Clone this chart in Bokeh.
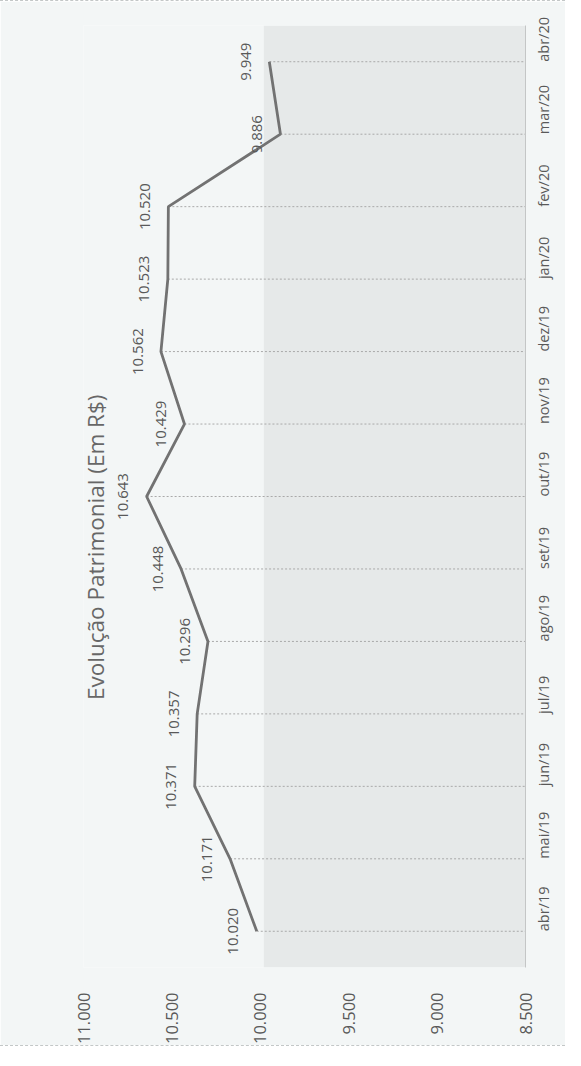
import math
from bokeh.plotting import figure
from bokeh.models import FactorRange, Range1d, FixedTicker, BoxAnnotation, Label
from bokeh.core.properties import value
from bokeh.embed import file_html
from bokeh.resources import INLINE

# ---- data ----
months = ["abr/19", "mai/19", "jun/19", "jul/19", "ago/19", "set/19", "out/19",
          "nov/19", "dez/19", "jan/20", "fev/20", "mar/20", "abr/20"]
patrimonio = [10020, 10171, 10371, 10357, 10296, 10448, 10643,
              10429, 10562, 10523, 10520, 9886, 9949]
data_labels = ["10.020", "10.171", "10.371", "10.357", "10.296", "10.448", "10.643",
               "10.429", "10.562", "10.523", "10.520", "9.886", "9.949"]
value_ticks = [8500, 9000, 9500, 10000, 10500, 11000]
value_tick_labels = ["8.500", "9.000", "9.500", "10.000", "10.500", "11.000"]
title_text = "Evolução Patrimonial (Em R$)"

# ---- styling constants ----
AXIS_MIN, AXIS_MAX = 8500, 11000
FONT = "Open Sans"
TEXT = "#595959"
BG = "#f3f6f6"
LABEL_DX = 132          # label offset from point, in value units (~24 px)
SHADE_EDGE = 9980

p = figure(width=565, height=1046,
           x_range=Range1d(AXIS_MAX, AXIS_MIN),
           y_range=FactorRange(factors=months),
           x_axis_location="below", y_axis_location="right",
           output_backend="svg", toolbar_location=None,
           min_border_left=83, min_border_right=34,
           min_border_top=24, min_border_bottom=78)
p.styles = {"border-top": "1px dashed #c3c7c7", "border-bottom": "1px dashed #c3c7c7"}

p.background_fill_color = BG
p.border_fill_color = BG
p.outline_line_color = None
p.xgrid.grid_line_color = None
p.ygrid.grid_line_color = None

# shaded plot-area fill
p.add_layout(BoxAnnotation(left=AXIS_MIN, right=SHADE_EDGE, fill_color="#e6e9e9",
                           fill_alpha=1.0, line_color=None, level="underlay"))

# drop lines
p.segment(x0=patrimonio, y0=months, x1=[AXIS_MIN] * len(months), y1=months,
          line_color="#a9a9a9", line_width=1, line_dash="2 2")

# series line
p.line(x=patrimonio, y=months, line_color="#727272", line_width=2.8)

# data labels
p.text(x=[v + LABEL_DX for v in patrimonio], y=months, text=data_labels,
       angle=math.pi / 2, text_align="center", text_baseline="middle",
       text_font=value(FONT), text_font_size="15px", text_color=TEXT)

# value axis (bottom)
xa = p.xaxis[0]
xa.ticker = FixedTicker(ticks=value_ticks)
xa.major_label_overrides = dict(zip(value_ticks, value_tick_labels))
xa.major_label_orientation = math.pi / 2
xa.axis_line_color = None
xa.major_tick_line_color = None
xa.minor_tick_line_color = None
xa.major_label_standoff = 19
xa.major_label_text_font = FONT
xa.major_label_text_font_size = "16.5px"
xa.major_label_text_color = TEXT

# category axis (right)
ya = p.yaxis[0]
ya.major_label_orientation = math.pi / 2
ya.axis_line_color = "#c4c6c6"
ya.major_tick_line_color = None
ya.minor_tick_line_color = None
ya.major_label_standoff = 12
ya.major_label_text_font = FONT
ya.major_label_text_font_size = "14.5px"
ya.major_label_text_color = TEXT

# title (rotated)
p.add_layout(Label(x=10930, y=5.8, text=title_text, angle=math.pi / 2,
                   text_align="center", text_baseline="middle",
                   text_font=FONT, text_font_size="22.5px", text_color="#676767"))

open("out.html", "w").write(file_html(p, INLINE))
